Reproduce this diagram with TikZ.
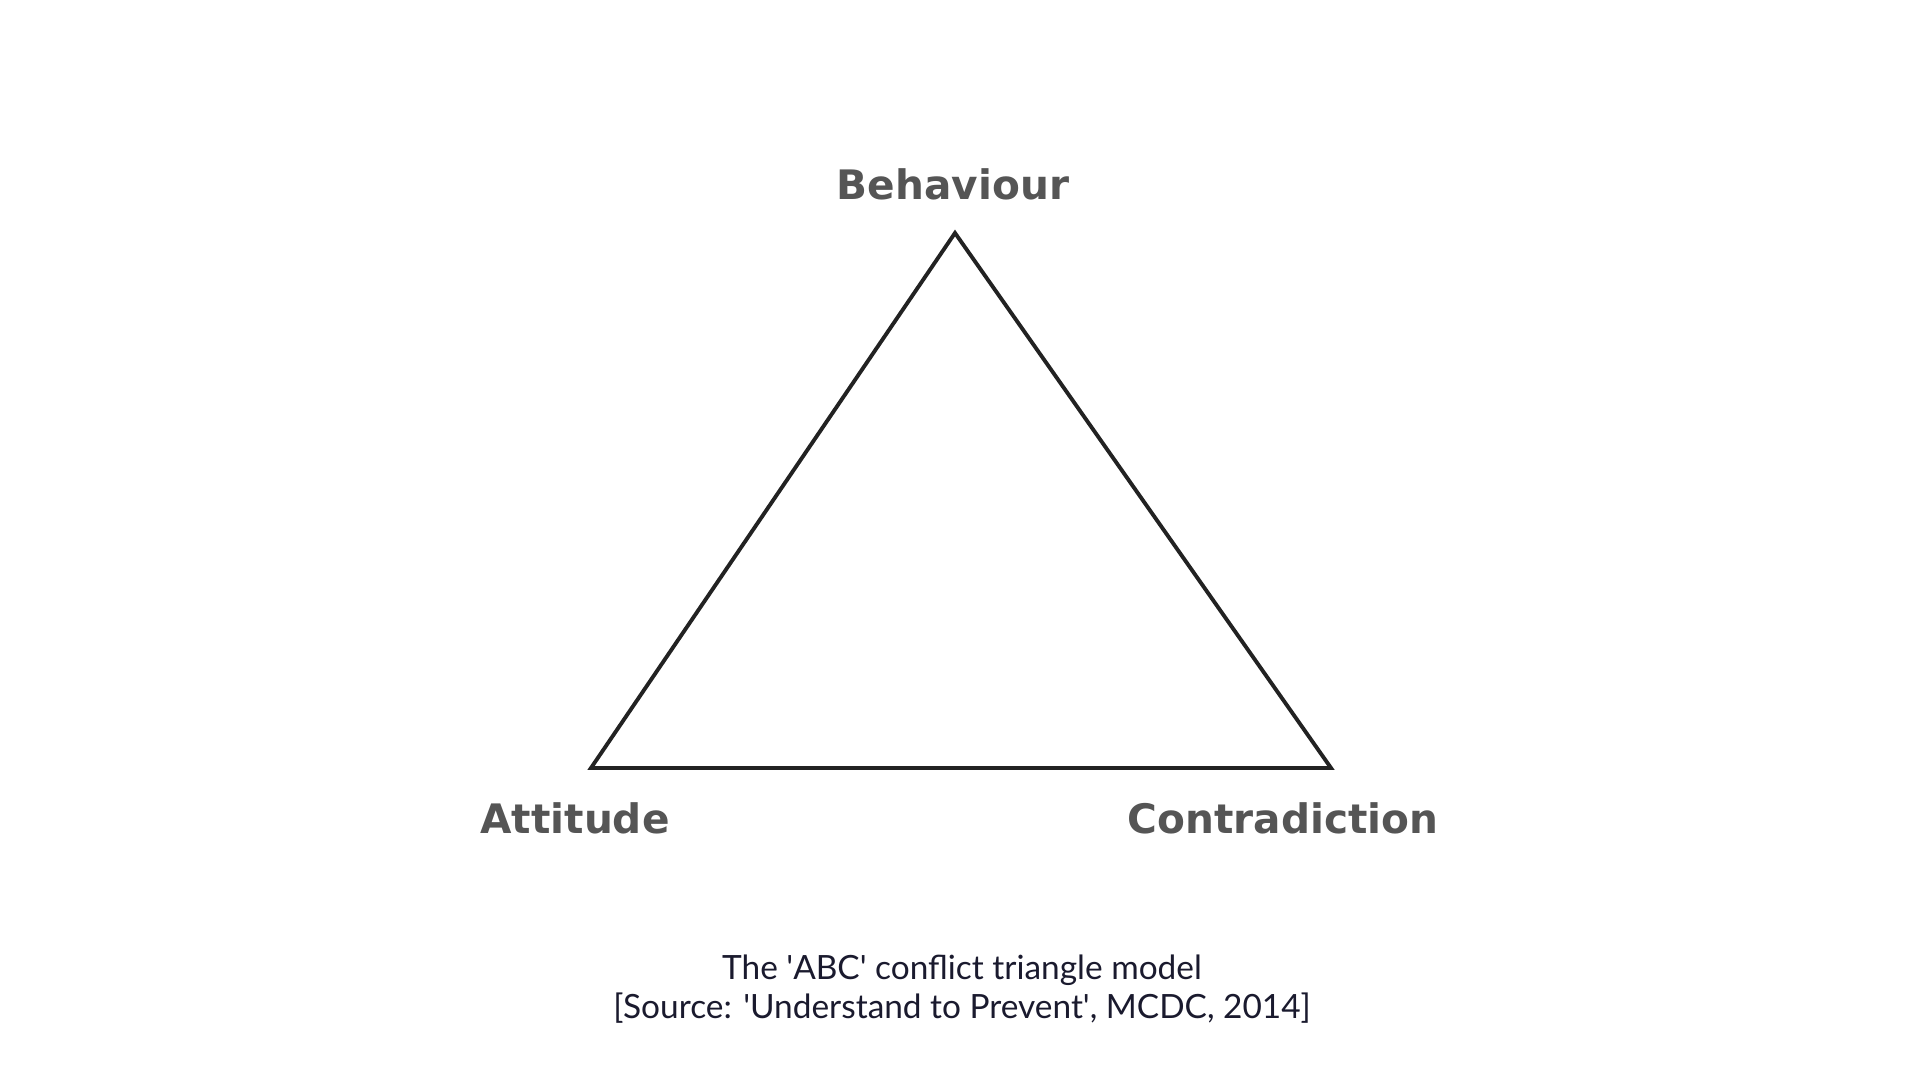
\documentclass[tikz,border=0pt]{standalone}
\usepackage{fontspec}
\setmainfont{Lato}
\newfontfamily\labelfont{DejaVu Sans}
\definecolor{abcInk}{HTML}{222222}
\definecolor{abcGray}{HTML}{555555}
\definecolor{abcNavy}{HTML}{1A1A2E}
\newcommand{\sq}{\textquotesingle}
\tikzset{
  abc edge/.style={draw=abcInk, line width=1.1pt, line join=miter},
  abc label/.style={font=\labelfont\bfseries\fontsize{11.55}{14}\selectfont, text=abcGray, inner sep=0pt},
  abc caption/.style={font=\fontsize{9.5}{11.1}\selectfont, text=abcNavy, align=center, inner sep=0pt},
}
\begin{document}
\begin{tikzpicture}[x=0.01cm,y=0.01cm]
  \useasboundingbox (0,0) rectangle (1920,1080);
  % corners of the triangle
  \coordinate (behaviour) at (955,847);
  \coordinate (attitude) at (591,312);
  \coordinate (contradiction) at (1331,312);
  \draw[abc edge] (behaviour) -- (attitude) -- (contradiction) -- cycle;
  \node[abc label] (lblB) at (953,896) {Behaviour};
  \node[abc label] (lblA) at (575,262) {Attitude};
  \node[abc label] (lblC) at (1283,262) {Contradiction};
  \node[abc caption] (cap) at (962,91) {The \sq ABC\sq{} conflict triangle model\\{}[Source: \sq Understand to Prevent\sq, MCDC, 2014]};
\end{tikzpicture}
\end{document}
